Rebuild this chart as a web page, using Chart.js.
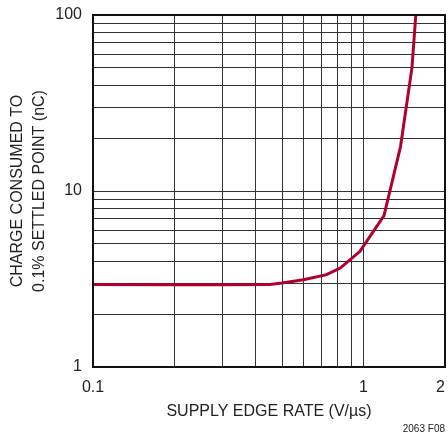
<!DOCTYPE html>
<html>
<head>
<meta charset="utf-8">
<script src="https://cdn.jsdelivr.net/npm/chart.js@4/dist/chart.umd.min.js"></script>
<style>
  html, body { margin: 0; padding: 0; background: #fff; }
  #wrap { width: 448px; height: 436px; position: relative; }
</style>
</head>
<body>
<div id="wrap"><canvas id="c" width="448" height="436"></canvas></div>
<script>
// Data
const edgeRate = [0.1, 0.2, 0.3, 0.45, 0.5, 0.6, 0.73, 0.82, 0.97, 1.19, 1.37, 1.51, 1.56];
const charge   = [2.94, 2.93, 2.93, 2.94, 3.0, 3.13, 3.35, 3.65, 4.54, 7.24, 17.9, 50.2, 100];
const xTicks = [0.1, 0.2, 0.3, 0.4, 0.5, 0.6, 0.7, 0.8, 0.9, 1, 2];
const xLabels = {0.1: '0.1', 1: '1', 2: '2\u2007'};
const yTicks = [1, 2, 3, 4, 5, 6, 7, 8, 9, 10, 20, 30, 40, 50, 60, 70, 80, 90, 100];
const yLabels = {1: '1', 10: '10', 100: '100'};
const xTitle = 'SUPPLY EDGE RATE (V/µs)';
const yTitle = ['CHARGE CONSUMED TO', '0.1% SETTLED POINT (nC)'];
const figureNote = '2063 F08';

const FONT = '"Liberation Sans", Arial, sans-serif';
const TEXT = '#222';
const GRID = '#333';

const framePlugin = {
  id: 'frame',
  afterDatasetsDraw(chart) {
    const {ctx, chartArea: a} = chart;
    ctx.save();
    ctx.strokeStyle = '#111';
    ctx.lineWidth = 2;
    ctx.strokeRect(a.left, a.top, a.right - a.left, a.bottom - a.top);
    ctx.restore();
  },
  afterDraw(chart) {
    const {ctx} = chart;
    ctx.save();
    ctx.fillStyle = TEXT;
    ctx.font = '10px ' + FONT;
    ctx.textAlign = 'right';
    ctx.textBaseline = 'middle';
    ctx.fillText(figureNote, 445, 429);
    ctx.restore();
  }
};

new Chart(document.getElementById('c'), {
  type: 'line',
  data: {
    datasets: [{
      data: edgeRate.map((x, i) => ({x: x, y: charge[i]})),
      borderColor: '#b0002c',
      borderWidth: 3,
      pointRadius: 0,
      tension: 0,
      fill: false,
      clip: false
    }]
  },
  options: {
    responsive: false,
    animation: false,
    devicePixelRatio: 1,
    layout: { padding: { top: 15, right: 3, left: 0, bottom: 0 } },
    plugins: { legend: { display: false }, tooltip: { enabled: false } },
    scales: {
      x: {
        type: 'logarithmic',
        min: 0.1, max: 2,
        afterBuildTicks(scale) { scale.ticks = xTicks.map(v => ({value: v})); },
        afterFit(scale) { scale.height = 69; scale.paddingLeft = 0; scale.paddingRight = 0; },
        grid: { color: GRID, lineWidth: 1, drawTicks: false },
        border: { display: false },
        ticks: {
          autoSkip: false, maxRotation: 0, padding: 11,
          color: TEXT, font: { family: FONT, size: 16 },
          callback: (v) => xLabels[v] || ''
        },
        title: {
          display: true, text: xTitle, color: TEXT,
          font: { family: FONT, size: 16 },
          padding: { top: 0, bottom: 15 }
        }
      },
      y: {
        type: 'logarithmic',
        min: 1, max: 100,
        afterBuildTicks(scale) { scale.ticks = yTicks.map(v => ({value: v})); },
        afterFit(scale) { scale.width = 93; scale.paddingTop = 0; scale.paddingBottom = 0; },
        grid: { color: GRID, lineWidth: 1, drawTicks: false },
        border: { display: false },
        ticks: {
          autoSkip: false, padding: 11,
          color: TEXT, font: { family: FONT, size: 16 },
          callback: (v) => yLabels[v] || ''
        },
        title: {
          display: true, text: yTitle, color: TEXT,
          font: { family: FONT, size: 16, lineHeight: 1.4 },
          padding: { top: 6, bottom: 0 }
        }
      }
    }
  },
  plugins: [framePlugin]
});
</script>
</body>
</html>
